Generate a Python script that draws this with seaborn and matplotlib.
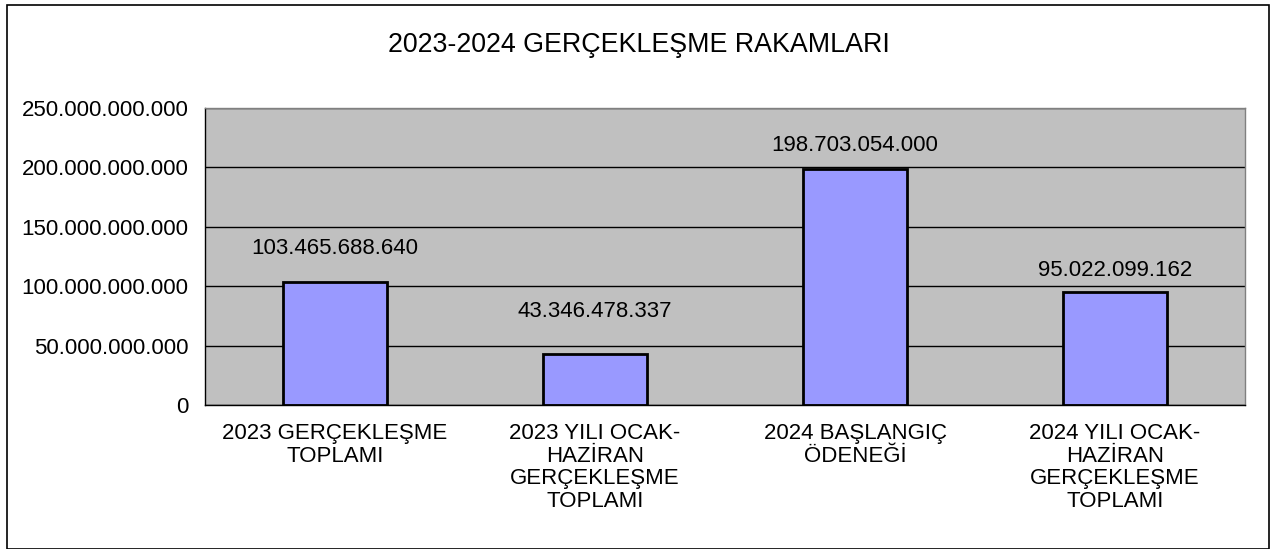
import numpy as np
import matplotlib.pyplot as plt
import seaborn as sns
import pandas as pd
from matplotlib.patches import Rectangle
from matplotlib.ticker import FuncFormatter

# veriler
kategoriler = ["2023 GERÇEKLEŞME\nTOPLAMI",
               "2023 YILI OCAK-\nHAZİRAN\nGERÇEKLEŞME\nTOPLAMI",
               "2024 BAŞLANGIÇ\nÖDENEĞİ",
               "2024 YILI OCAK-\nHAZİRAN\nGERÇEKLEŞME\nTOPLAMI"]
degerler = [103465688640, 43346478337, 198703054000, 95022099162]
etiketler = ["103.465.688.640", "43.346.478.337", "198.703.054.000", "95.022.099.162"]
y_ticks = [0, 50e9, 100e9, 150e9, 200e9, 250e9]

df = pd.DataFrame({"kategori": kategoriler, "deger": degerler})

sns.set_style("white")
plt.rcParams["font.family"] = ["Liberation Sans", "DejaVu Sans"]
plt.rcParams["text.color"] = "black"
plt.rcParams["xtick.color"] = "black"
plt.rcParams["ytick.color"] = "black"

fig = plt.figure(figsize=(12.78, 5.49), dpi=100)
ax = fig.add_axes([205/1278, 1-405/549, 1040/1278, 297/549])
ax.set_facecolor("#C0C0C0")

sns.barplot(data=df, x="kategori", y="deger", ax=ax, width=0.4,
            color="#9999FF", edgecolor="black", linewidth=2, saturation=1)

ax.set_xlim(-0.5, 3.5)
ax.set_ylim(0, 250e9)
ax.set_yticks(y_ticks)
ax.yaxis.set_major_formatter(FuncFormatter(lambda v, p: f"{int(v):,}".replace(",", ".")))
ax.grid(axis="y", color="black", linewidth=1)
ax.set_axisbelow(True)

# x ekseni: etiketler ortada, çentikler kategori sınırlarında
ax.set_xticks(range(4))
ax.set_xticklabels(kategoriler, fontsize=16, linespacing=1.1)
ax.set_xticks(np.arange(-0.5, 4, 1), minor=True)
ax.tick_params(axis="x", which="major", length=0, pad=13)
ax.tick_params(axis="x", which="minor", length=6, width=1, color="black", direction="out")
ax.tick_params(axis="y", length=8, width=1, color="black", direction="out", labelsize=16, pad=4)
ax.set_xlabel("")
ax.set_ylabel("")

for s in ["left", "bottom"]:
    ax.spines[s].set_color("black")
    ax.spines[s].set_linewidth(1)
for s in ["top", "right"]:
    ax.spines[s].set_color("#808080")
    ax.spines[s].set_linewidth(1)

# değer etiketleri
ofsetler = [34, 42, 23, 22]
for i, (d, e) in enumerate(zip(degerler, etiketler)):
    ax.annotate(e, (i, d), xytext=(0, ofsetler[i]), textcoords="offset pixels",
                ha="center", va="center", fontsize=16)

fig.text(0.5, 1-45/549, "2023-2024 GERÇEKLEŞME RAKAMLARI", ha="center", va="center",
         fontsize=19.3)

fig.patches.append(Rectangle((7/1278, 0), 1262/1278, 1-5/549, transform=fig.transFigure,
                             fill=False, edgecolor="black", linewidth=1.2))

fig.savefig("out.png", dpi=100)
